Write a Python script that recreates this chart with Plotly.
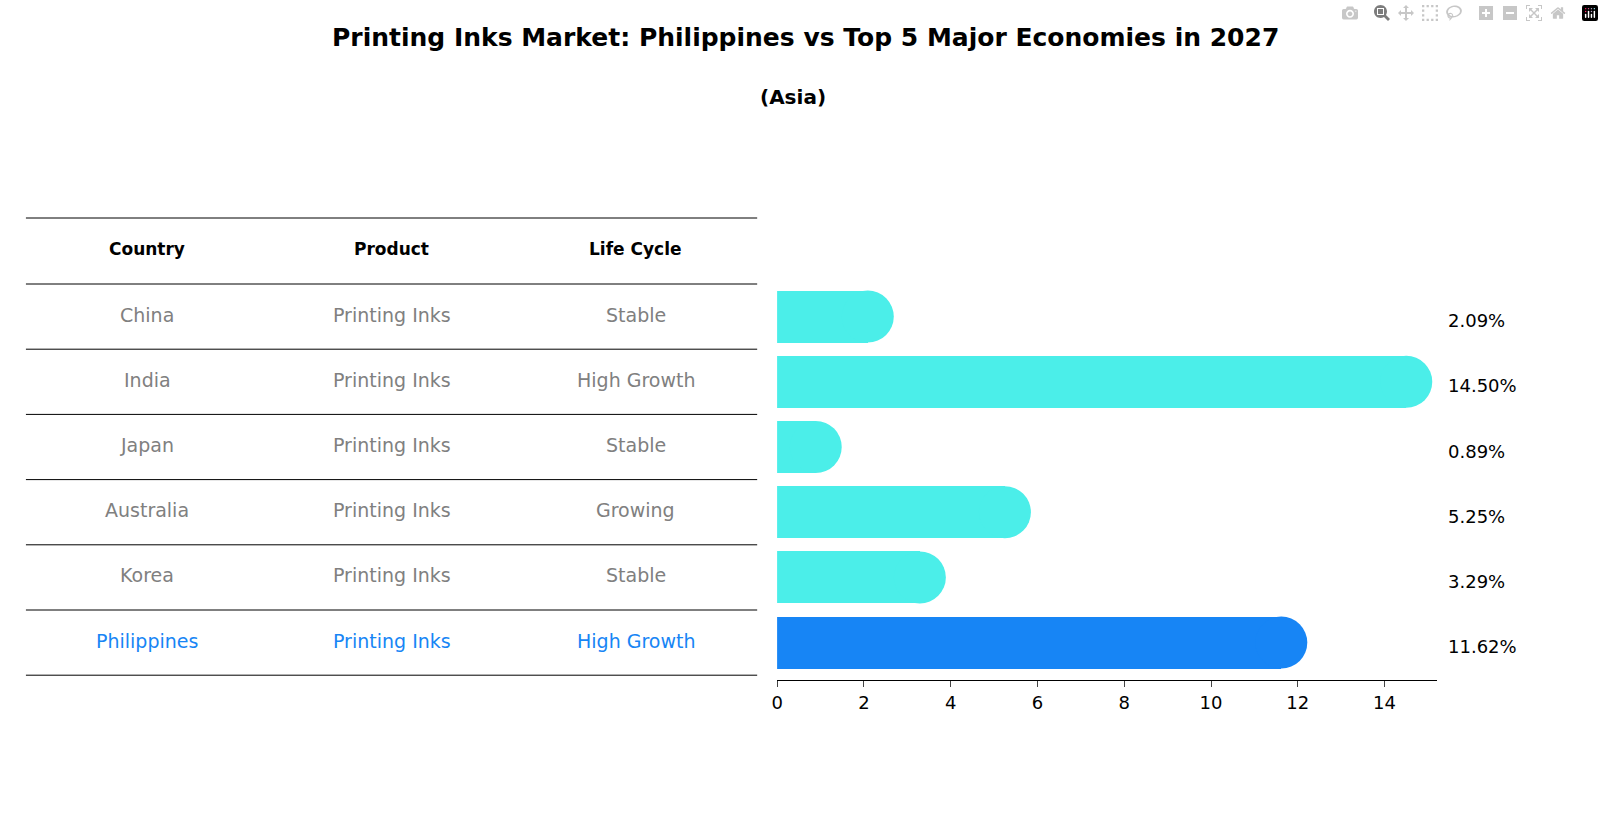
import plotly.graph_objects as go

countries = ["China", "India", "Japan", "Australia", "Korea", "Philippines"]
product = ["Printing Inks"] * 6
life_cycle = ["Stable", "High Growth", "Stable", "Growing", "Stable", "High Growth"]
growth = [2.09, 14.50, 0.89, 5.25, 3.29, 11.62]
tick_vals = [0, 2, 4, 6, 8, 10, 12, 14]

W, H = 1604, 823
cyan, blue, gray = "#4BEEE9", "#1785F5", "#808080"
colors = [blue if c == "Philippines" else cyan for c in countries]
ypos = list(range(len(countries)))

def py(p):
    return 1 - p / H

fig = go.Figure()
fig.add_trace(go.Bar(x=growth, y=ypos, orientation="h", width=0.8,
                     marker=dict(color=colors, line=dict(width=0)), hoverinfo="skip"))
fig.add_trace(go.Scatter(x=growth, y=ypos, mode="markers",
                         marker=dict(size=52, color=colors, line=dict(width=0)),
                         hoverinfo="skip"))

top, rh = 284, 65.2
fig.update_layout(
    width=W, height=H, margin=dict(l=0, r=0, t=0, b=0),
    paper_bgcolor="white", plot_bgcolor="white", showlegend=False, bargap=0,
    font=dict(family="DejaVu Sans", size=16, color="black"),
    xaxis=dict(domain=[774 / W, 1436 / W], range=[0, 15.2], tickvals=tick_vals,
               showgrid=False, zeroline=False, showline=True, linecolor="black",
               ticks="outside", ticklen=6, tickfont=dict(size=18), anchor="free",
               position=py(680)),
    yaxis=dict(domain=[py(top + 6 * rh), py(top)], range=[5.5, -0.5],
               visible=False),
)

ann = [
    dict(x=0.5, y=py(38), text="<b>Printing Inks Market: Philippines vs Top 5 Major Economies in 2027</b>",
         font=dict(size=25)),
    dict(x=790 / W, y=py(97), text="<b>(Asia)</b>", font=dict(size=20)),
]
cols = [142, 387, 632]
for cx, h in zip(cols, ["Country", "Product", "Life Cycle"]):
    ann.append(dict(x=cx / W, y=py(249), text=f"<b>{h}</b>", font=dict(size=17)))
for i, (c, p, l) in enumerate(zip(countries, product, life_cycle)):
    col = blue if c == "Philippines" else gray
    cy = top + rh * (i + 0.5)
    for cx, t in zip(cols, [c, p, l]):
        ann.append(dict(x=cx / W, y=py(cy - 2), text=t, font=dict(size=19, color=col)))
    ann.append(dict(x=1445 / W, y=py(cy + 4), text=f"{growth[i]:.2f}%", xanchor="left",
                    font=dict(size=18)))
for a in ann:
    a.update(xref="paper", yref="paper", showarrow=False, yanchor="middle")
    a.setdefault("xanchor", "center")
fig.update_layout(annotations=ann)

shapes = []
for yy in [218] + [top + rh * k for k in range(7)]:
    shapes.append(dict(type="line", xref="paper", yref="paper", x0=20 / W, x1=754 / W,
                       y0=py(yy), y1=py(yy), line=dict(color="black", width=1)))
fig.update_layout(shapes=shapes)

fig.write_html("out.html")
with open("out.html", encoding="utf-8") as f:
    html = f.read()
html = html.replace("<head>", "<head><style>html,body{margin:0;padding:0;overflow:hidden}</style>", 1)
with open("out.html", "w", encoding="utf-8") as f:
    f.write(html)
